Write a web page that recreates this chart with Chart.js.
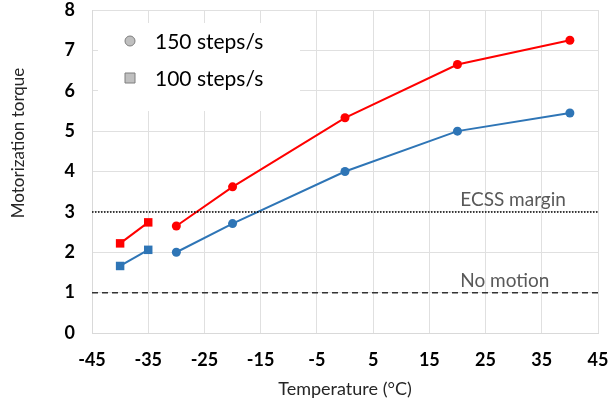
<!DOCTYPE html>
<html>
<head>
<meta charset="utf-8">
<script src="https://cdn.jsdelivr.net/npm/chart.js@4/dist/chart.umd.min.js"></script>
<style>
html,body{margin:0;padding:0;background:#fff;}
#wrap{width:614px;height:398px;}
</style>
</head>
<body>
<div id="wrap"><canvas id="c" width="614" height="398"></canvas></div>
<script>
// ---- data ----
const temps150 = [-30, -20, 0, 20, 40];
const torque150Red = [2.65, 3.62, 5.33, 6.65, 7.25];
const torque150Blue = [2.0, 2.71, 4.0, 5.0, 5.45];
const temps100 = [-40, -35];
const torque100Red = [2.22, 2.74];
const torque100Blue = [1.66, 2.06];
const xTicks = [-45, -35, -25, -15, -5, 5, 15, 25, 35, 45];
const yTicks = [0, 1, 2, 3, 4, 5, 6, 7, 8];
const refValues = [3, 1];
const refLabels = ['ECSS margin', 'No motion'];
const legendLabels = ['150 steps/s', '100 steps/s'];
const xTitle = 'Temperature (°C)';
const yTitle = 'Motorization torque';

const FONT = 'Lato, "Liberation Sans", Arial, sans-serif';
const RED = '#ff0000';
const BLUE = '#2e75b6';

function pts(xs, ys) { return xs.map((x, i) => ({x: x, y: ys[i]})); }
const xMin = xTicks[0], xMax = xTicks[xTicks.length - 1];
const yMin = yTicks[0], yMax = yTicks[yTicks.length - 1];

const seriesDefs = [
  {xs: temps150, ys: torque150Red, color: RED, style: 'circle', r: 4.5},
  {xs: temps150, ys: torque150Blue, color: BLUE, style: 'circle', r: 4.5},
  {xs: temps100, ys: torque100Red, color: RED, style: 'rect', r: 6},
  {xs: temps100, ys: torque100Blue, color: BLUE, style: 'rect', r: 6}
];
const datasets = seriesDefs.map(s => ({
  data: pts(s.xs, s.ys),
  showLine: true,
  borderColor: s.color,
  backgroundColor: s.color,
  borderWidth: 2,
  pointStyle: s.style,
  pointRadius: s.r,
  pointHoverRadius: s.r,
  pointBorderWidth: 0,
  pointBackgroundColor: s.color
}));
const refStyles = [
  {color: '#000000', dash: [1.5, 1.5], width: 1.5},
  {color: '#333333', dash: [6, 4], width: 1.5}
];
refValues.forEach((v, i) => {
  datasets.unshift({
    data: [{x: xMin, y: v}, {x: xMax, y: v}],
    showLine: true,
    borderColor: refStyles[i].color,
    borderDash: refStyles[i].dash,
    borderWidth: refStyles[i].width,
    pointRadius: 0,
    pointHoverRadius: 0
  });
});

const overlayPlugin = {
  id: 'overlay',
  afterDraw(chart) {
    const ctx = chart.ctx;
    const ca = chart.chartArea;
    const xs = chart.scales.x, ys = chart.scales.y;
    ctx.save();
    // y axis title (Excel places it above centre)
    ctx.fillStyle = '#262626';
    ctx.font = '17px ' + FONT;
    ctx.textAlign = 'center';
    ctx.textBaseline = 'middle';
    ctx.translate(19, ca.top + 133);
    ctx.rotate(-Math.PI / 2);
    ctx.fillText(yTitle, 0, 0);
    ctx.setTransform(1, 0, 0, 1, 0, 0);
    // reference line labels
    ctx.fillStyle = '#595959';
    ctx.font = '19px ' + FONT;
    ctx.textAlign = 'left';
    ctx.textBaseline = 'middle';
    refValues.forEach((v, i) => {
      ctx.fillText(refLabels[i], xs.getPixelForValue(20.5), ys.getPixelForValue(v) - 12);
    });
    // legend box
    ctx.fillStyle = '#ffffff';
    ctx.fillRect(ca.left + 6, ca.top + 13, 202, 88);
    const styles = ['circle', 'rect'];
    legendLabels.forEach((lab, i) => {
      const cx = ca.left + 38, cy = ca.top + 31 + i * 37;
      ctx.fillStyle = '#bfbfbf';
      ctx.strokeStyle = '#7f7f7f';
      ctx.lineWidth = 1;
      ctx.beginPath();
      if (styles[i] === 'circle') ctx.arc(cx, cy, 5, 0, Math.PI * 2);
      else ctx.rect(cx - 5, cy - 5, 10, 10);
      ctx.fill();
      ctx.stroke();
      ctx.fillStyle = '#000000';
      ctx.font = '21px ' + FONT;
      ctx.textAlign = 'left';
      ctx.textBaseline = 'middle';
      ctx.fillText(lab, ca.left + 63, cy + 1);
    });
    ctx.restore();
  }
};

new Chart(document.getElementById('c'), {
  type: 'scatter',
  data: {datasets: datasets},
  options: {
    responsive: false,
    animation: false,
    devicePixelRatio: 1,
    layout: {padding: {left: 0, right: 0, top: 4, bottom: 0}},
    plugins: {legend: {display: false}, tooltip: {enabled: false}},
    scales: {
      x: {
        type: 'linear',
        min: xMin, max: xMax,
        afterBuildTicks: s => { s.ticks = xTicks.map(v => ({value: v})); },
        afterFit: s => { s.height = 65; s.paddingLeft = 0; s.paddingRight = 16; },
        grid: {color: '#e0e0e0', drawTicks: false, lineWidth: 1},
        border: {color: '#d9d9d9'},
        ticks: {padding: 16, color: '#000', font: {family: FONT, size: 18, weight: 'bold'}, maxRotation: 0, autoSkip: false},
        title: {display: true, text: xTitle, color: '#262626', font: {family: FONT, size: 18}, padding: {top: 0, bottom: -2}}
      },
      y: {
        type: 'linear',
        min: yMin, max: yMax,
        afterBuildTicks: s => { s.ticks = yTicks.map(v => ({value: v})); },
        afterFit: s => { s.width = 92; s.paddingTop = 10; s.paddingBottom = 0; },
        grid: {color: '#e0e0e0', drawTicks: false, lineWidth: 1},
        border: {color: '#d9d9d9'},
        ticks: {padding: 17, color: '#000', font: {family: FONT, size: 18, weight: 'bold'}, autoSkip: false},
        title: {display: false}
      }
    }
  },
  plugins: [overlayPlugin]
});
</script>
</body>
</html>
